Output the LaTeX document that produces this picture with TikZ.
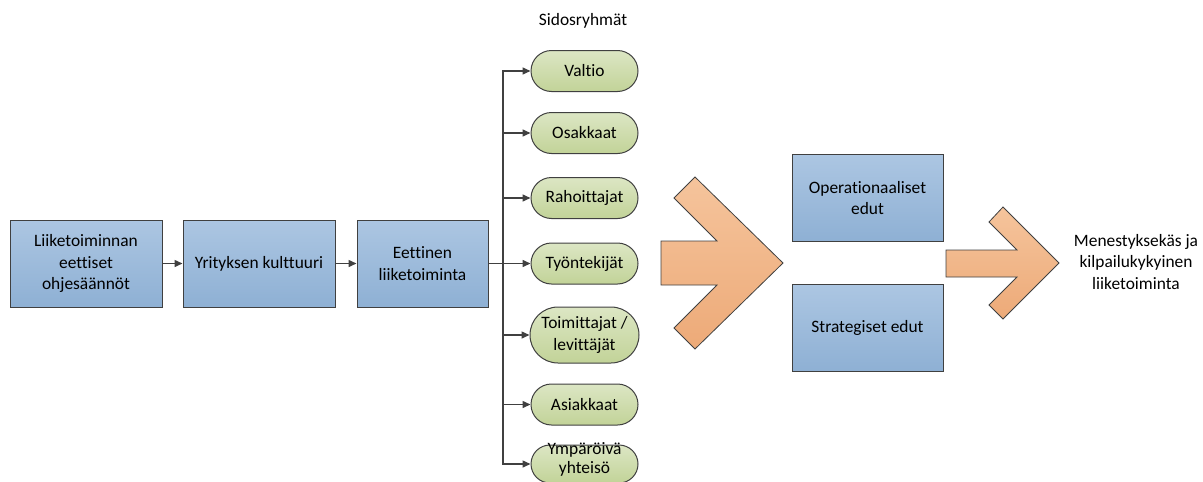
\documentclass[tikz,border=0pt]{standalone}
\usepackage{fontspec}
\setmainfont[Ligatures=NoCommon]{Carlito}
\usetikzlibrary{shapes.misc,arrows.meta}

\definecolor{boxtop}{RGB}{172,198,226}
\definecolor{boxbot}{RGB}{142,176,212}
\definecolor{pilltop}{RGB}{220,230,196}
\definecolor{pillbot}{RGB}{194,211,152}
\definecolor{arrtop}{RGB}{245,196,156}
\definecolor{arrbot}{RGB}{237,170,120}
\definecolor{edge}{RGB}{64,64,64}

\tikzset{
	box/.style={draw=edge,line width=1pt,top color=boxtop,bottom color=boxbot,minimum height=87pt,inner sep=0pt,align=center},
	pill/.style={draw=edge,line width=1pt,top color=pilltop,bottom color=pillbot,rounded rectangle,minimum width=109pt,minimum height=41pt,inner sep=1pt,align=center},
	link/.style={draw=edge,line width=1.5pt,-{Triangle[length=8pt,width=7pt]}},
	bigarrow/.style={draw=edge,line width=0.8pt,top color=arrtop,bottom color=arrbot}
}

\begin{document}
\begin{tikzpicture}[x=1pt,y=-1pt,font=\fontsize{17.4}{21.5}\selectfont]
			\useasboundingbox (0,0) rectangle (1203,482);

			\node[box,minimum width=152pt] (ohjeet) at (86,263.5) {Liiketoiminnan\\eettiset\\ohjesäännöt};
			
			\node[box,minimum width=152pt] (kulttuuri) at (259,263.5) {Yrityksen kulttuuri};
			
			\node[box,minimum width=131pt] (eettinen) at (422.5,263.5) {Eettinen\\liiketoiminta};

			\draw[link] (ohjeet) -- (kulttuuri);
			\draw[link] (kulttuuri) -- (eettinen);

			\node (sidos) at (583,21) {Sidosryhmät};

			\node[pill] (valtio) at (584.5,71) {Valtio};
			\node[pill] (osakkaat) at (584.5,133) {Osakkaat};
			\node[pill] (rahoittajat) at (584.5,198) {Rahoittajat};
			\node[pill] (tyontekijat) at (584.5,263.5) {Työntekijät};
			\node[pill,minimum height=56pt,inner sep=0pt] (toimittajat) at (584.5,335) {Toimittajat /\\levittäjät};
			\node[pill] (asiakkaat) at (584.5,404.5) {Asiakkaat};
			\node[pill,minimum height=38pt] (yhteiso) at (584.5,464)
				{\smash{\begin{tabular}{@{}c@{}}Ympäröivä\\[-2pt]yhteisö\end{tabular}}};

			\coordinate (haara) at (503,263.5);
			\foreach \n in {valtio,osakkaat,rahoittajat,tyontekijat,toimittajat,asiakkaat,yhteiso}
				\draw[link] (eettinen.east) -- (haara) |- (\n.west);

			\draw[bigarrow] (783,263) -- (695,177) -- (674,198) -- (717,241) -- (661,241)
				-- (661,285) -- (717,285) -- (674,328) -- (695,349) -- cycle;

			\node[box,minimum width=151pt] (operatiivinen) at (867.5,198) {Operationaaliset\\edut};
			
			\node[box,minimum width=151pt] (strateginen) at (867.5,328) {Strategiset edut};

			\draw[bigarrow] (1059,263) -- (1003,207) -- (989,222) -- (1017,250) -- (946,250)
				-- (946,277) -- (1017,277) -- (989,305) -- (1003,319) -- cycle;

			\node[align=center] (menestys) at (1136,262) {Menestyksekäs ja\\kilpailukykyinen\\liiketoiminta};

		\end{tikzpicture}
\end{document}
